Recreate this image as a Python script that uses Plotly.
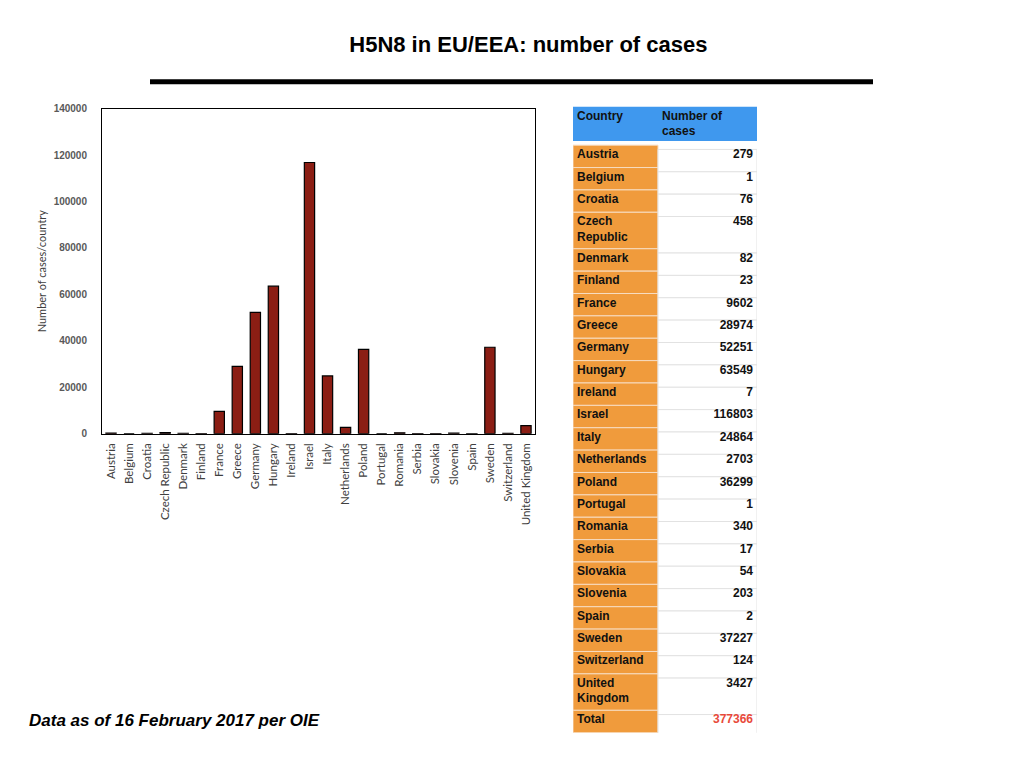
import plotly.graph_objects as go

countries = ["Austria", "Belgium", "Croatia", "Czech Republic", "Denmark", "Finland",
             "France", "Greece", "Germany", "Hungary", "Ireland", "Israel", "Italy",
             "Netherlands", "Poland", "Portugal", "Romania", "Serbia", "Slovakia",
             "Slovenia", "Spain", "Sweden", "Switzerland", "United Kingdom"]
cases = [279, 1, 76, 458, 82, 23, 9602, 28974, 52251, 63549, 7, 116803, 24864,
         2703, 36299, 1, 340, 17, 54, 203, 2, 37227, 124, 3427]
total = 377366

y_ticks = [0, 20000, 40000, 60000, 80000, 100000, 120000, 140000]

header_labels = ["Country", "Number of<br>cases"]
# names that wrap onto two lines in the table
table_names = [c.replace(" ", "<br>") if c in ("Czech Republic", "United Kingdom") else c
               for c in countries] + ["Total"]
table_values = [str(v) for v in cases] + [str(total)]

# table geometry in its own axis units (col widths in px, rows in line units)
col_w = [85, 99]
row_h = [1.72] + [1 + 0.63 * r.count("<br>") for r in table_names]
tops = [sum(row_h[:i]) for i in range(len(row_h))]
mids = [t + h / 2 for t, h in zip(tops, row_h)]
table_h = sum(row_h)


def py(p):
    # pixel row (from top) -> paper fraction, small correction for the page
    return 1 - (p - 3) / 0.9875 / 768


fig = go.Figure()

fig.add_trace(go.Bar(
    x=countries, y=cases,
    marker=dict(color="#8b1e14", line=dict(color="black", width=1.2)),
    xaxis="x", yaxis="y", hoverinfo="x+y",
))

# header cells
fig.add_trace(go.Bar(
    orientation="h", y=[mids[0], mids[0]], x=col_w, base=[0, col_w[0]],
    width=[row_h[0], row_h[0]],
    marker=dict(color="#3f98ee", line=dict(color="#3f98ee", width=0)),
    xaxis="x2", yaxis="y2", hoverinfo="skip",
))
# country column
fig.add_trace(go.Bar(
    orientation="h", y=mids[1:], x=[col_w[0]] * len(table_names), base=0,
    width=row_h[1:],
    marker=dict(color="#f09b3c", line=dict(color="#f7dcc0", width=1)),
    xaxis="x2", yaxis="y2", hoverinfo="skip",
))
# value column
fig.add_trace(go.Bar(
    orientation="h", y=mids[1:], x=[col_w[1]] * len(table_values), base=col_w[0],
    width=row_h[1:],
    marker=dict(color="white", line=dict(color="#e2e2e2", width=1)),
    xaxis="x2", yaxis="y2", hoverinfo="skip",
))

text_font = dict(family="Liberation Sans", size=12, color="#111111", weight="bold")
fig.add_trace(go.Scatter(
    x=[4, col_w[0] + 4], y=[0.18, 0.18], mode="text",
    text=header_labels, textposition="bottom right", textfont=text_font,
    xaxis="x2", yaxis="y2", hoverinfo="skip",
))
fig.add_trace(go.Scatter(
    x=[4] * len(table_names), y=[t + 0.18 for t in tops[1:]], mode="text",
    text=table_names, textposition="bottom right", textfont=text_font,
    xaxis="x2", yaxis="y2", hoverinfo="skip",
))
fig.add_trace(go.Scatter(
    x=[sum(col_w) - 4] * len(table_values), y=[t + 0.18 for t in tops[1:]], mode="text",
    text=table_values, textposition="bottom left",
    textfont=dict(family="Liberation Sans", size=12, weight="bold",
                  color=["#111111"] * len(cases) + ["#e8493a"]),
    xaxis="x2", yaxis="y2", hoverinfo="skip",
))

fig.update_layout(
    width=1024, height=768,
    margin=dict(l=0, r=0, t=0, b=0),
    paper_bgcolor="white", plot_bgcolor="white",
    showlegend=False,
    bargap=0.43,
    xaxis=dict(
        domain=[102 / 1024, 535 / 1024],
        tickangle=-90,
        tickfont=dict(family="Lato", size=11.5, color="#404040"),
        showline=True, linecolor="black", linewidth=1, mirror=True,
        ticks="", showgrid=False, ticklabelstandoff=4,
    ),
    yaxis=dict(
        domain=[py(432), py(106)],
        range=[0, 140000],
        tickvals=y_ticks,
        ticktext=[str(v) for v in y_ticks],
        tickfont=dict(family="Liberation Sans", size=10, color="#595959", weight="bold"),
        showline=True, linecolor="black", linewidth=1, mirror=True,
        showgrid=False, zeroline=False, ticks="", ticklabelstandoff=12,
        title=dict(text="Number of cases/country",
                   font=dict(family="Lato", size=11, color="#404040"), standoff=4),
    ),
    xaxis2=dict(
        domain=[573 / 1024, 757 / 1024], range=[0, sum(col_w)],
        visible=False, fixedrange=True,
    ),
    yaxis2=dict(
        domain=[py(732), py(104)], range=[table_h, 0],
        visible=False, fixedrange=True, anchor="x2",
    ),
    title=dict(
        text="<b>H5N8 in EU/EEA: number of cases</b>",
        x=0.516, xanchor="center", y=1 - 44 / 768, yanchor="middle",
        font=dict(family="Liberation Sans", size=22, color="black"),
    ),
    shapes=[dict(type="line", xref="paper", yref="paper",
                 x0=150 / 1024, x1=873 / 1024, y0=py(79), y1=py(79),
                 line=dict(color="black", width=5))],
    annotations=[dict(
        text="<b><i>Data as of 16 February 2017 per OIE</i></b>",
        xref="paper", yref="paper", x=27 / 1024, y=py(720),
        xanchor="left", yanchor="middle", showarrow=False,
        font=dict(family="Liberation Sans", size=17, color="black"),
    )],
)

fig.write_html("out.html", config={"displayModeBar": False},
               post_script="document.body.style.margin='0px';")
